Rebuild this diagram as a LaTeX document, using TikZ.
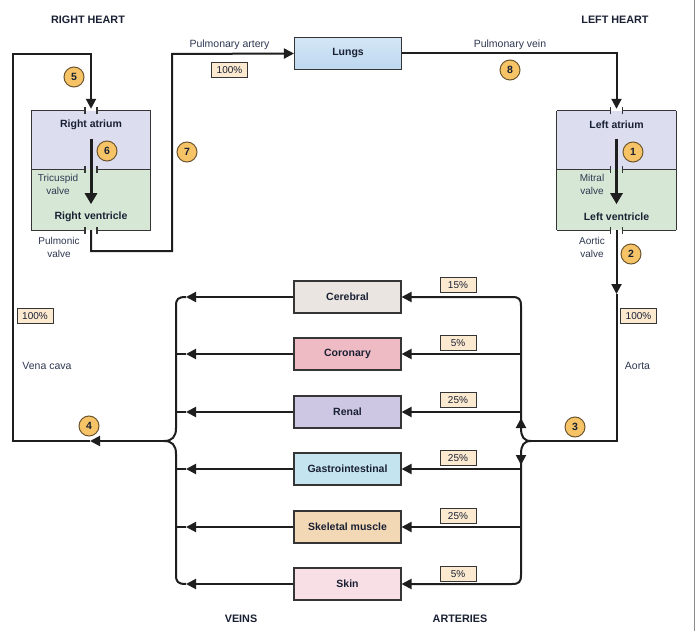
\documentclass[tikz,border=0pt]{standalone}
\usepackage{fontspec}
\setmainfont{Liberation Sans}
\usetikzlibrary{arrows.meta,calc}
\definecolor{linec}{HTML}{1E1E1E}
\definecolor{txtc}{HTML}{2F3852}
\definecolor{boldc}{HTML}{1A2033}
\definecolor{lungc}{HTML}{BDD8F0}
\definecolor{cerc}{HTML}{EAE5E1}
\definecolor{corc}{HTML}{EEBBC5}
\definecolor{renc}{HTML}{CDC7E3}
\definecolor{gasc}{HTML}{C4E5EF}
\definecolor{skmc}{HTML}{F3D8B6}
\definecolor{skinc}{HTML}{F8DEE5}
\definecolor{atrc}{HTML}{DCDEF0}
\definecolor{venc}{HTML}{D6E8D5}
\definecolor{pctc}{HTML}{FCEAD0}
\definecolor{numc}{HTML}{F6C466}
\definecolor{numd}{HTML}{6E5630}
\tikzset{
  flow/.style={draw=linec, line width=2pt},
  tri/.style={-{Triangle[length=10pt,width=10pt]}},
  heartarrow/.style={draw=linec, line width=3pt, -{Triangle[length=11pt,width=12pt]}},
  organ/.style={draw=linec!90, line width=1.1pt, minimum width=107pt, minimum height=32pt, inner sep=0pt, font=\fontsize{10.5}{12}\selectfont\bfseries, text=boldc},
  chamber/.style={draw=none, minimum width=119pt, inner sep=0pt},
  edge/.style={draw=linec!90, line width=1.2pt},
  pct/.style={draw=linec!90, fill=pctc, line width=1pt, minimum width=36pt, minimum height=15pt, inner sep=1pt, font=\fontsize{10}{11}\selectfont, text=boldc},
  num/.style={circle, draw=numd, line width=1pt, fill=numc, minimum size=20pt, inner sep=0pt, font=\fontsize{10.5}{12}\selectfont\bfseries, text=boldc},
  lbl/.style={font=\fontsize{10.5}{12}\selectfont, text=txtc, align=center, inner sep=0pt},
  blbl/.style={font=\fontsize{10.5}{12}\selectfont\bfseries, text=boldc, inner sep=0pt},
  hlbl/.style={font=\fontsize{10.8}{12}\selectfont\bfseries, text=boldc, inner sep=0pt},
}
\begin{document}
\begin{tikzpicture}[x=1pt, y=-1pt]
\useasboundingbox (0,0) rectangle (696,631);
\fill[white] (0,0) rectangle (696,631);
\draw[black!45, line width=1.2pt] (694.5,0) -- (694.5,631);

% headings
\node[hlbl] (rh) at (88,20) {RIGHT HEART};
\node[hlbl] (lh) at (615,20) {LEFT HEART};
\node[hlbl] (veins) at (241,619) {VEINS};
\node[hlbl] (arts) at (460,619) {ARTERIES};

% lungs
\node[organ, top color=lungc!65, bottom color=lungc] (lungs) at (348,53.5) {Lungs};

% heart chambers
\node[chamber, fill=atrc, minimum height=58pt] (ra) at (91,140) {};
\node[chamber, fill=venc, minimum height=61pt] (rv) at (91,199.5) {};
\node[chamber, fill=atrc, minimum height=58pt] (la) at (616.5,140) {};
\node[chamber, fill=venc, minimum height=61pt] (lv) at (616.5,199.5) {};
\foreach \a/\v in {ra/rv, la/lv}{
  \draw[edge] (\a.north west) -- (\v.south west);
  \draw[edge] (\a.north east) -- (\v.south east);
  \foreach \s in {\a.north, \a.south, \v.south}{
    \draw[edge] (\s -| \a.west) -- ([xshift=-6pt]\s);
    \draw[edge] ([xshift=6pt]\s) -- (\s -| \a.east);
    \draw[edge] ([xshift=-6pt,yshift=-3.5pt]\s) -- ([xshift=-6pt,yshift=3.5pt]\s);
    \draw[edge] ([xshift=6pt,yshift=-3.5pt]\s) -- ([xshift=6pt,yshift=3.5pt]\s);
  }
  \draw[heartarrow] ([yshift=-28pt]\a.north) -- ([yshift=26pt]\v.south);
}
\node[blbl] at ([yshift=-14pt]ra.north) {Right atrium};
\node[blbl] at ([yshift=13pt]rv.south) {Right ventricle};
\node[blbl] at ([yshift=-14pt]la.north) {Left atrium};
\node[blbl] at ([yshift=13pt]lv.south) {Left ventricle};
\node[lbl, font=\fontsize{10}{13}\selectfont] (tri) at (58,184) {Tricuspid\\valve};
\node[lbl, font=\fontsize{10}{13}\selectfont] (pul) at (59,247) {Pulmonic\\valve};
\node[lbl, font=\fontsize{10}{13}\selectfont] (mit) at (592,184) {Mitral\\valve};
\node[lbl, font=\fontsize{10}{13}\selectfont] (aov) at (592,247) {Aortic\\valve};

% organs
\node[organ, fill=cerc]  (cer) at (347.5,297) {Cerebral};
\node[organ, fill=corc]  (cor) at (347.5,354) {Coronary};
\node[organ, fill=renc]  (ren) at (347.5,412) {Renal};
\node[organ, fill=gasc]  (gas) at (347.5,469) {Gastrointestinal};
\node[organ, fill=skmc]  (skm) at (347.5,527) {Skeletal muscle};
\node[organ, fill=skinc] (skin) at (347.5,584) {Skin};

% coordinates
\coordinate (paA) at (172,251);
\coordinate (paB) at (172,54);
\coordinate (aoArr) at (616.5,294);
\coordinate (atip) at (531,441);
\coordinate (atrunk) at (521,0);
\coordinate (vtip) at (164,441);
\coordinate (vtrunk) at (176,0);
\coordinate (varr) at (186,0);
\coordinate (vcArr) at (90,441);
\coordinate (vcA) at (13,441);
\coordinate (vcB) at (13,54);

% pulmonary circuit
\draw[flow, tri] (rv.south) |- (paA) -- (paB) -- (lungs.west);
\draw[flow, tri] (lungs.east) -| ([yshift=2pt]la.north);

% aorta
\draw[flow, tri] (lv.south) -- (aoArr);
\draw[flow] (aoArr) |- (atip);

% arteries brace
\draw[flow, tri] (atip) .. controls (524,441) and (521,437) .. (521,428) -- (521,306) .. controls (521,299) and (519,297) .. (512,297) -- (cer.east);
\draw[flow, tri] (atip) .. controls (524,441) and (521,445) .. (521,454) -- (521,575) .. controls (521,582) and (519,584) .. (512,584) -- (skin.east);
\foreach \o in {cor, ren, gas, skm}{
  \draw[flow, tri] (\o.east -| atrunk) -- (\o.east);
}
\draw[flow, tri] (521,431) -- (521,418);
\draw[flow, tri] (521,451) -- (521,465);

% veins brace
\draw[flow] (vtip) .. controls (172,441) and (176,437) .. (176,428) -- (176,306) .. controls (176,299) and (178,297) .. (cer.west -| varr);
\draw[flow] (vtip) .. controls (172,441) and (176,445) .. (176,454) -- (176,575) .. controls (176,582) and (178,584) .. (skin.west -| varr);
\foreach \o in {cor, ren, gas, skm}{
  \draw[flow] (\o.west -| varr) -- (\o.west -| vtrunk);
}
\foreach \o in {cer, cor, ren, gas, skm, skin}{
  \draw[flow, tri] (\o.west) -- (\o.west -| varr);
}

% vena cava
\draw[flow, tri] (vtip) -- (vcArr);
\draw[flow, tri] (vcArr) -- (vcA) -- (vcB) -| ([yshift=2pt]ra.north);

% labels
\node[lbl] (pal) at (229.5,45) {Pulmonary artery};
\node[lbl] (pvl) at (510,45) {Pulmonary vein};
\node[lbl] (aol) at (637.5,366) {Aorta};
\node[lbl] (vcl) at (47,366) {Vena cava};

% percentages
\node[pct] (p1) at (229.5,70) {100\%};
\node[pct] (p2) at (35,316) {100\%};
\node[pct] (p3) at (638.5,316) {100\%};
\node[pct] (pc) at (458,285) {15\%};
\node[pct] (pco) at (458,343) {5\%};
\node[pct] (pr) at (458,400) {25\%};
\node[pct] (pg) at (458,458) {25\%};
\node[pct] (ps) at (458,516) {25\%};
\node[pct] (psk) at (458,574) {5\%};

% step numbers
\node[num] (n1) at (633,152) {1};
\node[num] (n2) at (631,254) {2};
\node[num] (n3) at (575,427) {3};
\node[num] (n4) at (89,426) {4};
\node[num] (n5) at (74,77) {5};
\node[num] (n6) at (107,151) {6};
\node[num] (n7) at (187,152) {7};
\node[num] (n8) at (510,70) {8};
\end{tikzpicture}
\end{document}
